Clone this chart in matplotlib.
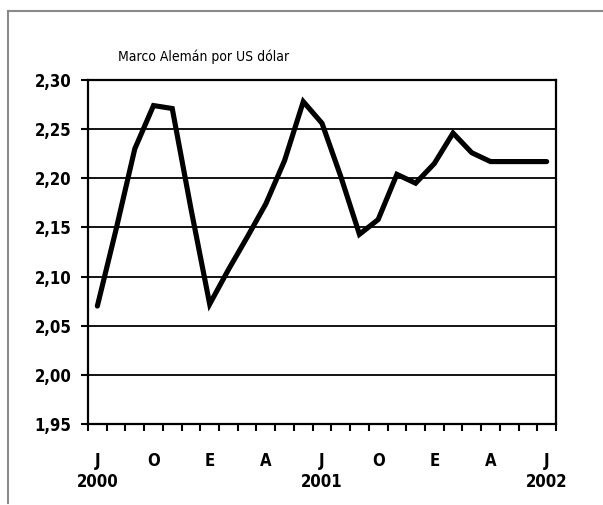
import numpy as np
import matplotlib.pyplot as plt
from matplotlib.lines import Line2D

# ------------------------------------
# Data: monthly Marco Alemán per US dólar, Jul 2000 - Jul 2002
# ------------------------------------
months = ["J", "A", "S", "O", "N", "D", "E", "F", "M", "A", "M", "J",
          "J", "A", "S", "O", "N", "D", "E", "F", "M", "A", "M", "J", "J"]
rate = [2.070, 2.148, 2.230, 2.274, 2.271, 2.169, 2.072, 2.107, 2.140,
        2.174, 2.218, 2.278, 2.256, 2.202, 2.143, 2.158, 2.204, 2.195,
        2.215, 2.246, 2.226, 2.217, 2.217, 2.217, 2.217]
label_pos = [0, 3, 6, 9, 12, 15, 18, 21, 24]
label_text = ["J\n2000", "O", "E", "A", "J\n2001", "O", "E", "A", "J\n2002"]
y_ticks = [1.95, 2.00, 2.05, 2.10, 2.15, 2.20, 2.25, 2.30]

plt.rcParams['font.family'] = ['DejaVu Sans']
plt.rcParams['font.stretch'] = 'condensed'

fig = plt.figure(figsize=(6.03, 5.05), dpi=100)
ax = fig.add_axes([88/603, 1-424/505, (556-88)/603, (424-80)/505])

x = np.arange(len(rate))
ax.plot(x, rate, color="black", linewidth=3.7,
        solid_joinstyle="miter", solid_capstyle="round", zorder=3)

# ------------------------------------
# Axes styling
# ------------------------------------
ax.set_xlim(-0.5, len(rate) - 0.5)
ax.set_ylim(1.95, 2.30)
ax.set_yticks(y_ticks)
ax.set_yticklabels([f"{v:.2f}".replace(".", ",") for v in y_ticks],
                   fontsize=12, fontweight="bold")
ax.yaxis.grid(True, color="black", linewidth=1.3)
ax.set_axisbelow(True)

ax.set_xticks(label_pos)
ax.set_xticklabels(label_text, fontsize=12, fontweight="bold", linespacing=1.2)
ax.set_xticks(np.arange(-0.5, len(rate)), minor=True)
ax.tick_params(axis="x", which="major", length=0, pad=20)
ax.tick_params(axis="x", which="minor", length=5, width=1.5, direction="out")
ax.tick_params(axis="y", length=5, width=1.5, direction="out", pad=7)

for s in ax.spines.values():
    s.set_linewidth(1.6)

fig.text(118/603, 1-57/505, "Marco Alemán por US dólar",
         fontsize=10, ha="left", va="center")

# outer frame (top and left edges only)
fig.add_artist(Line2D([7.5/603, 7.5/603], [1-503/505, 1-10.7/505],
                      transform=fig.transFigure, color="#8a8a8a", linewidth=1.5))
fig.add_artist(Line2D([7.5/603, 1.0], [1-10.7/505, 1-10.7/505],
                      transform=fig.transFigure, color="#8a8a8a", linewidth=1.5))

fig.savefig("out.png", dpi=100)
